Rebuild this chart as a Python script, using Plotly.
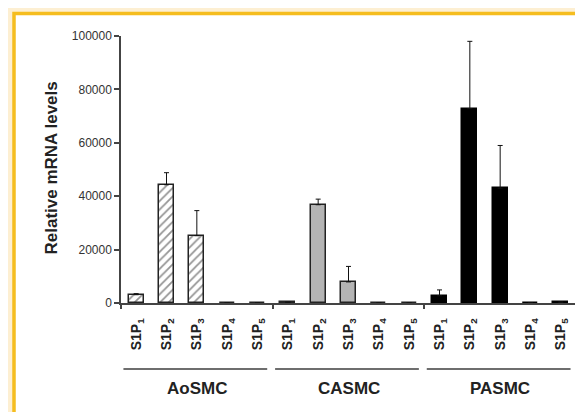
import plotly.graph_objects as go

# ---- data ----
groups = ["AoSMC", "CASMC", "PASMC"]
receptors = ["1", "2", "3", "4", "5"]
aosmc_vals = [3100, 44300, 25200, 0, 0]
aosmc_err = [400, 4500, 9400, None, None]
casmc_vals = [300, 36800, 7900, 0, 0]
casmc_err = [None, 2100, 5800, None, None]
pasmc_vals = [2700, 72800, 43000, 0, 300]
pasmc_err = [2200, 25200, 16000, None, None]
y_ticks = [0, 20000, 40000, 60000, 80000, 100000]

W, H = 583, 412
ML, MR, MT, MB = 113, 15, 28, 117
PW = W - ML - MR
PH = H - MT - MB


def px_x(px):
    return (px - ML) / PW


def px_y(py):
    return (H - MB - py) / PH


n = len(receptors)
tick_vals = list(range(len(groups) * n))
tick_text = [f"S1P<sub>{r}</sub>" for g in groups for r in receptors]

styles = [
    dict(marker=dict(color="white", line=dict(color="#222", width=1.5),
                     pattern=dict(shape="/", fgcolor="#2a2a2a", bgcolor="white",
                                  size=6, solidity=0.3))),
    dict(marker=dict(color="#b4b4b4", line=dict(color="#222", width=1.5))),
    dict(marker=dict(color="#000000", line=dict(color="#000", width=1.5))),
]
vals = [aosmc_vals, casmc_vals, pasmc_vals]
errs = [aosmc_err, casmc_err, pasmc_err]

fig = go.Figure()
for gi, g in enumerate(groups):
    xs = [gi * n + i for i in range(n)]
    fig.add_trace(go.Bar(
        x=xs, y=vals[gi], width=0.5, name=g, showlegend=False,
        error_y=dict(type="data", symmetric=False, array=errs[gi],
                     arrayminus=[0 if e is not None else None for e in errs[gi]],
                     color="#111", thickness=1, width=2.5),
        **styles[gi]))

shapes = [
    # frame
    dict(type="rect", xref="paper", yref="paper",
         x0=px_x(-20), x1=px_x(W + 20), y0=px_y(-20), y1=px_y(H + 20),
         fillcolor="#fdefd2", line=dict(width=0), layer="below"),
    dict(type="rect", xref="paper", yref="paper",
         x0=px_x(6), x1=px_x(W + 20), y0=px_y(5.5), y1=px_y(H + 20),
         fillcolor="white", line=dict(color="#f5bd1f", width=3.5), layer="below"),
]
annotations = []
for gi, g in enumerate(groups):
    x0 = gi * n - 0.42
    x1 = gi * n + n - 1 + 0.32
    shapes.append(dict(type="line", xref="x", yref="paper",
                       x0=x0, x1=x1, y0=px_y(361), y1=px_y(361),
                       line=dict(color="#6e6e6e", width=2)))
    annotations.append(dict(x=gi * n + (n - 1) / 2, y=px_y(392), xref="x",
                            yref="paper", text=f"<b>{g}</b>", showarrow=False,
                            font=dict(size=17, color="#222",
                                      family="Liberation Sans, Arial")))
annotations.append(dict(x=px_x(31), y=px_y(160), xref="paper", yref="paper",
                        text="<b>Relative mRNA levels</b>", textangle=-90,
                        showarrow=False,
                        font=dict(size=17, color="#222",
                                  family="Liberation Sans, Arial")))

fig.update_layout(
    width=W, height=H,
    margin=dict(l=ML, r=MR, t=MT, b=MB, pad=0),
    paper_bgcolor="white", plot_bgcolor="rgba(0,0,0,0)",
    barmode="overlay", bargap=0,
    shapes=shapes, annotations=annotations,
    font=dict(family="Liberation Sans, Arial", color="#222"),
    xaxis=dict(range=[-0.5, len(tick_vals) - 0.5], tickmode="array",
               tickvals=tick_vals, ticktext=[f"<b>{t}</b>" for t in tick_text],
               tickangle=-90, ticks="", showgrid=False, zeroline=False,
               showline=True, linecolor="#444", linewidth=1.5,
               tickfont=dict(size=14, color="#222"), ticklabelstandoff=8,
               minor=dict(tickmode="linear", tick0=-0.5, dtick=5, ticks="outside",
                          ticklen=4, tickcolor="#444", tickwidth=1.5, showgrid=False)),
    yaxis=dict(range=[0, 100000], tickmode="array", tickvals=y_ticks,
               ticktext=[str(v) for v in y_ticks], ticks="outside", ticklen=5,
               tickcolor="#444", tickwidth=1.5, showgrid=False, zeroline=False,
               showline=True, linecolor="#444", linewidth=1.5,
               tickfont=dict(size=12, color="#333")),
)

fig.write_html("out.html")
